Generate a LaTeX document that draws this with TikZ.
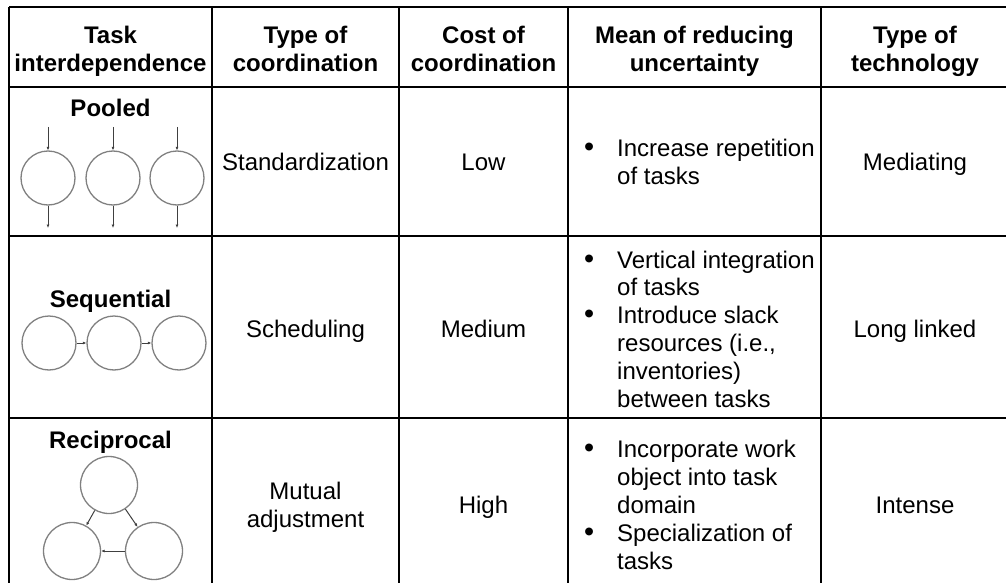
\documentclass[tikz,border=0pt]{standalone}
\usepackage{fontspec}
\usepackage{graphicx}
\setmainfont{Liberation Sans}
\usetikzlibrary{arrows.meta}

\tikzset{
  txt/.style={font=\fontsize{24}{27.8}\selectfont, align=center, inner sep=0pt},
  hd/.style={txt, font=\bfseries\fontsize{24}{27.8}\selectfont},
  grid/.style={line width=2pt},
  unit/.style={circle, draw=black!50, line width=1.3pt, minimum size=54pt, inner sep=0pt},
  flow/.style={draw=black!75, line width=1pt, -{Latex[length=3.5pt,width=3pt]}},
}
\newcommand{\bul}{\scalebox{1.2}{\textbullet}}

\begin{document}
\begin{tikzpicture}[x=1pt,y=-1pt]
\useasboundingbox (0,0) rectangle (1006,583);

% table rules
\draw[grid] (9,7) -- (1006,7);
\foreach \y in {87,236,418} {
\draw[grid] (9,\y) -- (1006,\y);
}
\foreach \x in {9,212,399,568,821} {
\draw[grid] (\x,7) -- (\x,583);
}

% header
\node[hd, anchor=north] (hTask) at (110.5,26) {Task\\interdependence};
\node[hd, anchor=north] (hType) at (305.5,26) {Type of\\coordination};
\node[hd, anchor=north] (hCost) at (483.5,26) {Cost of\\coordination};
\node[hd, anchor=north] (hMean) at (694.5,26) {Mean of reducing\\uncertainty};
\node[hd, anchor=north] (hTech) at (915,26) {Type of\\technology};

% pooled
\node[hd, anchor=base] (pooled) at (110.5,117) {Pooled};
\foreach \n/\x in {1/48,2/113,3/177} {
\node[unit] (pool\n) at (\x,178) {};
\coordinate (in\n) at (\x,127);
\coordinate (out\n) at (\x,228);
\draw[flow] (in\n) -- (pool\n);
\draw[flow] (pool\n) -- (out\n);
}
\node[txt, anchor=base] (coord1) at (305.5,170) {Standardization};
\node[txt, anchor=base] (cost1) at (483.5,170) {Low};
\node[txt, anchor=west] (mean1) at (584,165) {\begin{tabular}{@{}p{33pt}@{}l@{}}\bul & Increase repetition\\ & of tasks\end{tabular}};
\node[txt, anchor=base] (tech1) at (915,170) {Mediating};

% sequential
\node[hd, anchor=base] (sequential) at (110.5,307) {Sequential};
\foreach \n/\x in {1/49,2/114,3/179} {
\node[unit] (seq\n) at (\x,343) {};
}
\draw[flow] (seq1) -- (seq2);
\draw[flow] (seq2) -- (seq3);
\node[txt, anchor=base] (coord2) at (305.5,337) {Scheduling};
\node[txt, anchor=base] (cost2) at (483.5,337) {Medium};
\node[txt, anchor=west] (mean2) at (584,332) {\begin{tabular}{@{}p{33pt}@{}l@{}}\bul & Vertical integration\\ & of tasks\\ \bul & Introduce slack\\ & resources (i.e.,\\ & inventories)\\ & between tasks\end{tabular}};
\node[txt, anchor=base] (tech2) at (915,337) {Long linked};

% reciprocal
\node[hd, anchor=base] (reciprocal) at (110.5,448) {Reciprocal};
\node[unit, minimum size=57pt] (rec1) at (109,485) {};
\node[unit, minimum size=57pt] (rec2) at (72,551) {};
\node[unit, minimum size=57pt] (rec3) at (154,551) {};
\draw[flow] (rec1) -- (rec2);
\draw[flow] (rec1) -- (rec3);
\draw[flow] (rec3) -- (rec2);
\node[txt, anchor=north] (coord3) at (305.5,482) {Mutual\\adjustment};
\node[txt, anchor=base] (cost3) at (483.5,513) {High};
\node[txt, anchor=west] (mean3) at (584,508) {\begin{tabular}{@{}p{33pt}@{}l@{}}\bul & Incorporate work\\ & object into task\\ & domain\\ \bul & Specialization of\\ & tasks\end{tabular}};
\node[txt, anchor=base] (tech3) at (915,513) {Intense};
\end{tikzpicture}
\end{document}
